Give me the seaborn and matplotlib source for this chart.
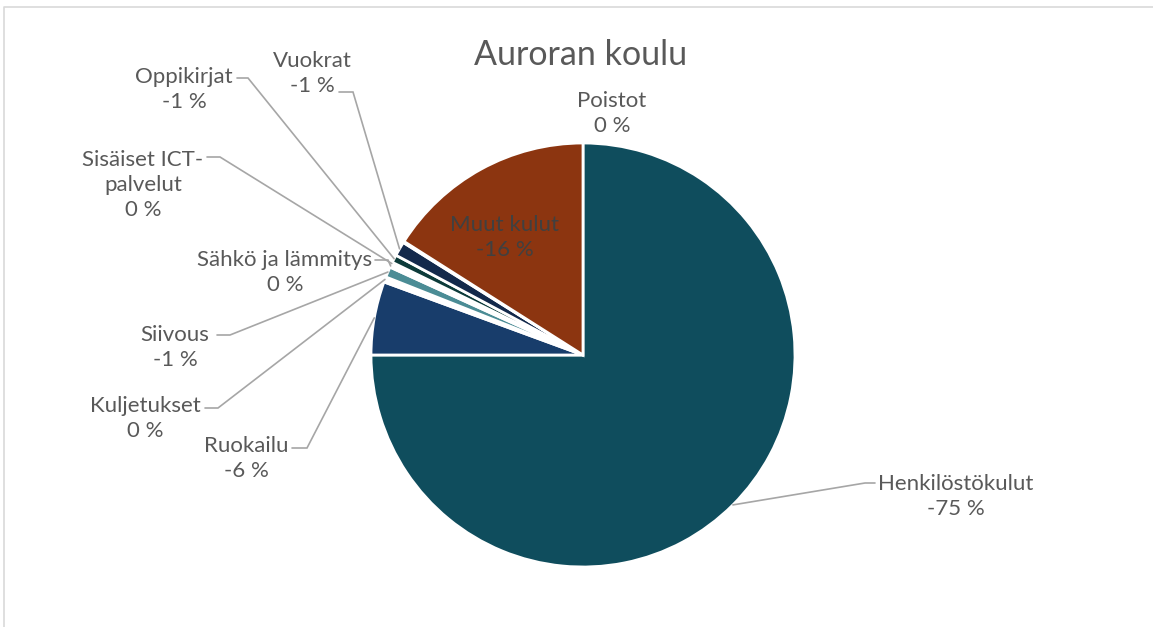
import matplotlib
matplotlib.use("Agg")
import matplotlib.pyplot as plt
import seaborn as sns
import numpy as np

# ---- data (share of costs, negative = expense) ----
categories = ["Henkilöstökulut", "Ruokailu", "Kuljetukset", "Siivous",
              "Sähkö ja lämmitys", "Sisäiset ICT-\npalvelut", "Oppikirjat",
              "Vuokrat", "Poistot", "Muut kulut"]
shares = [-75.0, -5.6, -0.4, -0.8, -0.2, -0.2, -0.6, -1.1, -0.1, -16.0]
title = "Auroran koulu"

# near-zero slices show up only as white gaps in the original
colors = ["#0F4D5D", "#183D6B", "#FFFFFF", "#4B8C95", "#FFFFFF",
          "#FFFFFF", "#0D3B3A", "#13294B", "#FFFFFF", "#8C3510"]

# ---- layout (pixel coords of the 1153x627 canvas, y measured from top) ----
W, H = 1153, 627
cx, cy, rad = 583, 355, 212
# text centre x, baseline y of the last line
label_pos = [(956, 515), (246, 477), (145, 437), (175, 366), (285, 291),
             (143, 216), (184, 108), (312, 92), (612, 132), (505, 256)]
# leader elbow: (x at label, x at bend, y)  None = no leader line
elbows = [(875, 865, 483), (292, 307, 448), (205, 218, 408), (217, 230, 335),
          (375, 388, 260), (207, 220, 157), (237, 248, 78), (339, 353, 92),
          None, None]

sns.set_style("white")
plt.rcParams["font.family"] = ["Lato", "DejaVu Sans"]

fig = plt.figure(figsize=(W / 100, H / 100), dpi=100)
ax = fig.add_axes([0, 0, 1, 1])

def Y(y):
    return H - y

wedges, _ = ax.pie([abs(v) for v in shares], colors=colors, startangle=90,
                   counterclock=False, center=(cx, Y(cy)), radius=rad,
                   wedgeprops=dict(edgecolor="white", linewidth=2.0))
ax.set_xlim(0, W)
ax.set_ylim(0, H)
ax.set_aspect("equal")
ax.axis("off")

text_col = "#595959"
line_col = "#A6A6A6"

for i, (name, v) in enumerate(zip(categories, shares)):
    pct = f"{int(round(v))} %"
    tx, ty = label_pos[i]
    col = "#404040" if name == "Muut kulut" else text_col
    ax.text(tx, Y(ty), f"{name}\n{pct}", ha="center", va="baseline",
            multialignment="center", fontsize=16, color=col, linespacing=1.3)
    if elbows[i] is not None:
        w = wedges[i]
        mid = np.deg2rad((w.theta1 + w.theta2) / 2)
        rx = cx + rad * np.cos(mid)
        ry = Y(cy) + rad * np.sin(mid)
        x0, x1, ey = elbows[i]
        ax.plot([x0, x1, rx], [Y(ey), Y(ey), ry], color=line_col, lw=1.2,
                solid_joinstyle="miter")

ax.text(581, Y(65), title, ha="center", va="baseline", fontsize=24.5, color=text_col)

# chart-area frame (only top and left visible in the crop)
ax.plot([4, 4, W + 5], [-5, Y(7), Y(7)], color="#D9D9D9", lw=1.2, clip_on=False)

fig.savefig("out.png", dpi=100, facecolor="white")
